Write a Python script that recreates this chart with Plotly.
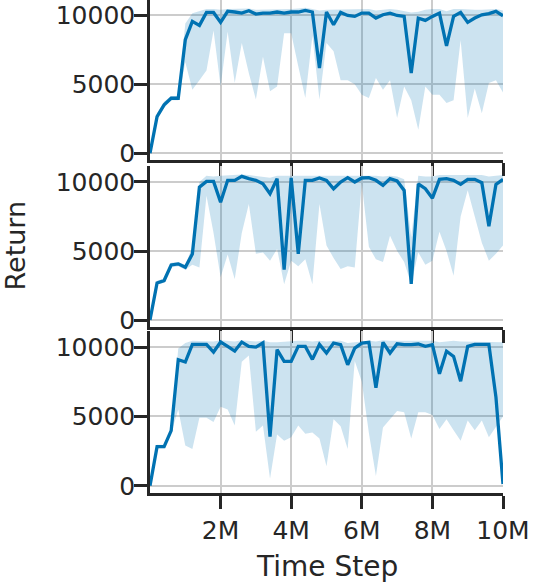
import plotly.graph_objects as go

# time steps in millions, one evaluation every 0.2M
STEPS_M = [
    0.0, 0.2, 0.4, 0.6, 0.8, 1.0, 1.2, 1.4, 1.6, 1.8,
    2.0, 2.2, 2.4, 2.6, 2.8, 3.0, 3.2, 3.4, 3.6, 3.8,
    4.0, 4.2, 4.4, 4.6, 4.8, 5.0, 5.2, 5.4, 5.6, 5.8,
    6.0, 6.2, 6.4, 6.6, 6.8, 7.0, 7.2, 7.4, 7.6, 7.8,
    8.0, 8.2, 8.4, 8.6, 8.8, 9.0, 9.2, 9.4, 9.6, 9.8,
    10.0,
]

# top panel
TOP_MEAN = [
    0, 2660, 3510, 3990, 3990, 8230, 9560, 9270, 10210, 10210,
    9490, 10290, 10240, 10160, 10330, 10090, 10160, 10160, 10240, 10160,
    10240, 10240, 10360, 10240, 6170, 10240, 9320, 10210, 9990, 9920,
    10160, 10160, 9800, 10040, 10160, 9990, 9920, 5810, 9800, 9630,
    9920, 10160, 7790, 9920, 10210, 9490, 9800, 10040, 10120, 10290,
    9970,
]
TOP_LOW = [
    0, 2500, 3300, 3850, 3850, 6600, 4600, 5300, 6000, 8900,
    4850, 8800, 5100, 8000, 5800, 3900, 7000, 4500, 4850, 8700,
    8700, 6300, 4000, 8500, 3900, 8000, 7400, 5300, 5300, 5000,
    4250, 4000, 5450, 4600, 5300, 2550, 4850, 3850, 1700, 4850,
    4250, 4250, 3650, 3850, 8200, 2550, 4700, 2900, 5100, 5300,
    4400,
]
TOP_HIGH = [
    0, 2900, 3750, 4150, 4150, 9400, 10150, 10300, 10450, 10450,
    10400, 10450, 10450, 10450, 10500, 10400, 10400, 10450, 10400, 10450,
    10450, 10500, 10550, 10450, 10350, 10400, 10400, 10450, 10450, 10400,
    10400, 10450, 10350, 10400, 10450, 10400, 10300, 10200, 10250, 10400,
    10450, 10450, 10300, 10450, 10450, 10400, 10400, 10400, 10450, 10450,
    10350,
]

# middle panel
MID_MEAN = [
    0, 2690, 2860, 3990, 4070, 3820, 4790, 9630, 10040, 10040,
    8540, 10120, 10120, 10410, 10240, 10120, 9870, 9150, 10240, 3650,
    10290, 4790, 10120, 10120, 10290, 10120, 9510, 10000, 10310, 10000,
    10290, 10310, 10120, 9750, 10240, 10070, 9390, 2620, 9870, 9510,
    8830, 10190, 10240, 10120, 9830, 10190, 10190, 9950, 6800, 9820,
    10190,
]
MID_LOW = [
    0, 2550, 2700, 3800, 3900, 3650, 4000, 3800, 9000, 6300,
    3100, 4750, 2950, 6300, 8400, 4800, 4900, 4300, 5150, 2600,
    4300, 3900, 4400, 2600, 8400, 5400, 4500, 3700, 3900, 3800,
    9900, 5300, 4400, 4200, 6100, 5000, 4200, 2600, 4900, 4000,
    4300, 6400, 5000, 3200, 7500, 9400, 7500, 5600, 4300, 4800,
    5400,
]
MID_HIGH = [
    0, 2850, 3000, 4150, 4200, 4000, 5300, 10000, 10450, 10400,
    10450, 10500, 10500, 10550, 10500, 10450, 10400, 10300, 10450, 10450,
    10500, 10500, 10500, 10500, 10500, 10500, 10450, 10500, 10500, 10500,
    10500, 10500, 10450, 10400, 10450, 10400, 10200, 6000, 10450, 10400,
    10400, 10500, 10500, 10500, 10450, 10500, 10500, 10500, 10400, 10450,
    10500,
]

# bottom panel
BOT_MEAN = [
    0, 2820, 2820, 3980, 9090, 8920, 10190, 10190, 10190, 9640,
    10360, 10050, 9710, 10360, 10050, 10000, 10310, 3540, 9810, 8970,
    8970, 10050, 10050, 9110, 10190, 9570, 10290, 10170, 8720, 9930,
    10290, 10340, 7060, 10340, 9570, 10240, 10170, 10170, 10220, 10050,
    10170, 8070, 9710, 9330, 7540, 10050, 10190, 10190, 10190, 6390,
    120,
]
BOT_LOW = [
    0, 2700, 2700, 3800, 5500, 2900, 2650, 4900, 4900, 4600,
    5700, 5500, 4350, 8950, 9400, 3900, 4350, 500, 3700, 3250,
    3500, 4350, 3750, 3850, 3400, 1400, 4800, 4300, 2650, 9000,
    7500, 3800, 700, 4200, 4800, 5400, 5300, 3400, 5300, 5300,
    5100, 4100, 4800, 4000, 3250, 4700, 4000, 4700, 3500, 4200,
    5000,
]
BOT_HIGH = [
    0, 2950, 2950, 4100, 9900, 10300, 10450, 10450, 10450, 10400,
    10500, 10450, 10400, 10500, 10450, 10400, 10450, 10350, 10350, 10400,
    10450, 10450, 10450, 10400, 10450, 10400, 10450, 10450, 10300, 10350,
    10450, 10450, 10400, 10500, 10450, 10450, 10450, 10450, 10450, 10400,
    10450, 10350, 10400, 10450, 10400, 10400, 10400, 10400, 10400, 10350,
    10350,
]

X_TICKS = [2e6, 4e6, 6e6, 8e6, 1e7]
X_TICK_TEXT = ["2M", "4M", "6M", "8M", "10M"]
Y_TICKS = [0, 5000, 10000]
Y_TICK_TEXT = ["0", "5000", "10000"]

LINE_COLOR = "#0072B2"
BAND_COLOR = "rgba(0,114,178,0.2)"
INK = "#262626"
GRID = "#cccccc"
FONT = "DejaVu Sans"

PANELS = [
    dict(mean=TOP_MEAN, low=TOP_LOW, high=TOP_HIGH,
         domain=[0.6745, 1.0], yrange=[-520, 11110]),
    dict(mean=MID_MEAN, low=MID_LOW, high=MID_HIGH,
         domain=[0.3363, 0.6639], yrange=[-520, 11180]),
    dict(mean=BOT_MEAN, low=BOT_LOW, high=BOT_HIGH,
         domain=[0.0, 0.3292], yrange=[-520, 11180]),
]

AXIS_STYLE = dict(
    showline=True, linecolor=INK, linewidth=2.5,
    ticks="outside", ticklen=13, tickwidth=2.5, tickcolor=INK,
    showgrid=True, gridcolor=GRID, gridwidth=2,
    zeroline=False,
    tickfont=dict(family=FONT, size=25, color=INK),
)

steps = [s * 1e6 for s in STEPS_M]

fig = go.Figure()
layout = {}

for i, p in enumerate(PANELS, start=1):
    xa = "x" if i == 1 else f"x{i}"
    ya = "y" if i == 1 else f"y{i}"

    # shaded band as closed polygon
    fig.add_trace(go.Scatter(
        x=steps + steps[::-1], y=p["high"] + p["low"][::-1],
        xaxis=xa, yaxis=ya, mode="lines", fill="toself",
        fillcolor=BAND_COLOR, line=dict(width=0), hoverinfo="skip",
    ))
    fig.add_trace(go.Scatter(
        x=steps, y=p["mean"], xaxis=xa, yaxis=ya, mode="lines",
        line=dict(color=LINE_COLOR, width=3.3),
    ))

    layout[f"xaxis{'' if i == 1 else i}"] = dict(
        domain=[0, 1], anchor=ya, range=[0, 1e7],
        tickvals=X_TICKS, ticktext=X_TICK_TEXT,
        showticklabels=(i == 3),
        **({} if i == 1 else dict(matches="x")),
        **AXIS_STYLE,
    )
    layout[f"yaxis{'' if i == 1 else i}"] = dict(
        domain=p["domain"], anchor=xa, range=p["yrange"],
        tickvals=Y_TICKS, ticktext=Y_TICK_TEXT, ticklabelstandoff=-6,
        **AXIS_STYLE,
    )

fig.update_layout(
    **layout,
    width=533, height=585,
    margin=dict(l=150, r=30, t=0, b=92),
    plot_bgcolor="white", paper_bgcolor="white",
    showlegend=False,
    font=dict(family=FONT, color=INK),
    annotations=[
        dict(text="Return", xref="paper", yref="paper", x=-0.381, y=0.501,
             textangle=-90, showarrow=False, xanchor="center", yanchor="middle",
             font=dict(family=FONT, size=27, color=INK)),
        dict(text="Time Step", xref="paper", yref="paper", x=0.5, y=-0.150,
             showarrow=False, xanchor="center", yanchor="middle",
             font=dict(family=FONT, size=28, color=INK)),
    ],
)

# the page body has a default 8px margin; drop it so the figure sits at the corner
fig.write_html(
    "out.html",
    config={"displayModeBar": False},
    post_script="document.body.style.margin='0px';",
)
